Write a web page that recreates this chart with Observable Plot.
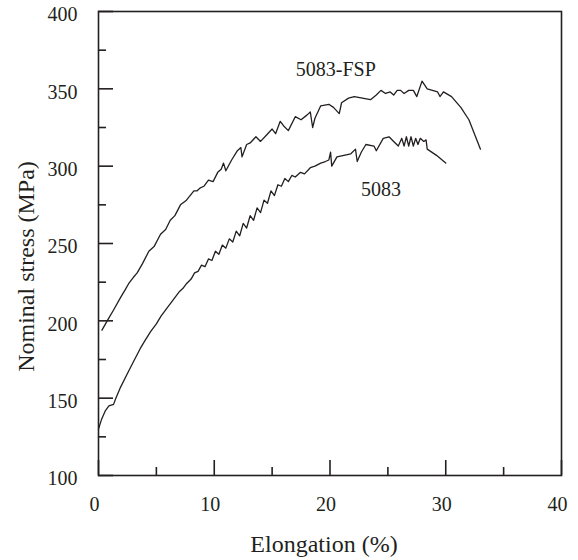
<!DOCTYPE html>
<html><head><meta charset="utf-8">
<script src="https://cdn.jsdelivr.net/npm/d3@7"></script>
<script src="https://cdn.jsdelivr.net/npm/@observablehq/plot@0.6"></script>
<style>
body{margin:0;background:#fff}
#chart svg text { font-family: "Liberation Serif", "Times New Roman", Tinos, serif !important; }
</style>
</head><body><div id="chart"></div>
<script>
// 5083-FSP curve (elongation %, nominal stress MPa)
const fspElong = [0.3,0.75,1.3,1.9,2.3,2.6,3.0,3.34,3.8,4.35,4.8,5.36,5.8,6.2,6.6,7.08,7.6,8.24,8.5,8.8,9.1,9.5,9.9,10.3,10.6,10.8,11.0,11.5,12.0,12.3,12.4,12.8,13.1,13.6,14.0,14.5,15.0,15.3,15.7,16.0,16.4,17.0,17.5,18.0,18.3,18.5,18.7,19.2,19.9,20.3,20.8,21.0,21.6,22.1,23.5,24.0,24.4,24.8,25.2,25.5,25.8,26.1,26.4,26.8,27.2,27.5,27.95,28.4,29.3,29.5,29.8,30.5,31.3,32.0,33.0];
const fspStress = [194,200,207,215,220,224,228,231,237,245,248,256,259,265,268,275,278,284,284,286,287,291,290,296,298,302,297,304,310,312,306,314,315,319,316,320,324,321,329,326,323,332,330,333,335,325,331,339,340,338,334,341,344,345,343,346,349,347,348,346,349,349,347,349,349,345,355,350,348,345,348,345,338,330,311];
// 5083 base material curve
const baseElong = [0.0,0.25,0.6,0.9,1.3,1.5,1.9,2.5,3.05,3.6,4.0,4.5,5.0,5.4,5.9,6.5,7.0,7.3,7.6,8.0,8.3,8.6,8.9,9.2,9.5,9.8,10.1,10.4,10.7,11.0,11.3,11.6,11.9,12.2,12.5,12.8,13.1,13.4,13.7,14.0,14.3,14.6,14.9,15.2,15.5,15.8,16.1,16.4,16.7,17.0,17.45,17.8,18.3,18.7,19.2,19.6,19.9,20.05,20.15,20.6,21.2,21.8,22.2,22.35,22.7,23.1,23.8,24.0,24.6,25.1,25.5,25.9,26.2,26.4,26.6,26.8,27.0,27.2,27.4,27.6,27.8,28.1,28.3,28.4,29.2,30.0];
const baseStress = [130,136,142,145,146,150,157,166,174,182,187,193,198,203,208,214,219,221,224,227,231,232,236,235,240,239,245,243,249,247,253,251,258,255,263,260,268,265,273,270,278,276,284,281,288,287,292,290,294,293,296,295,299,300,302,303,304,309,300,306,307,308,311,303,309,314,313,310,318,319,316,313,318,313,319,313,319,313,318,314,318,316,317,311,307,302];

const seriesNames = ["5083-FSP", "5083"];
const labelElong = [20.5, 24.4];
const labelStress = [358.6, 281];

const xMajor = [0, 10, 20, 30, 40];
const xMinor = [5, 15, 25, 35];
const yMajor = [100, 150, 200, 250, 300, 350, 400];
const yMinor = [125, 175, 225, 275, 325, 375];

const ink = "#231f20";
const serif = "'Liberation Serif', 'Times New Roman', Tinos, serif";
const W = 578, H = 560, mL = 98, mR = 17, mT = 11, mB = 85;
const pw = W - mL - mR, ph = H - mT - mB;

const toRows = (xs, ys) => xs.map((x, i) => ({x, y: ys[i]}));
const labels = seriesNames.map((name, i) => ({name, x: labelElong[i], y: labelStress[i]}));

const chart = Plot.plot({
  width: W, height: H,
  marginLeft: mL, marginRight: mR, marginTop: mT, marginBottom: mB,
  style: `font-family: ${serif}; font-size: 20px; color: ${ink}; background: #fff;`,
  x: {domain: [0, 40]},
  y: {domain: [100, 400]},
  marks: [
    Plot.frame({stroke: ink, strokeWidth: 1.6}),
    Plot.tickX(xMajor, {x: d => d, insetTop: ph - 15, stroke: ink, strokeWidth: 1.6}),
    Plot.tickX(xMinor, {x: d => d, insetTop: ph - 8, stroke: ink, strokeWidth: 1.6}),
    Plot.tickY(yMajor, {y: d => d, insetRight: pw - 15, stroke: ink, strokeWidth: 1.6}),
    Plot.tickY(yMinor, {y: d => d, insetRight: pw - 8, stroke: ink, strokeWidth: 1.6}),
    Plot.axisX(xMajor, {tickSize: 0, tickPadding: 21, dx: -4, label: null, fontSize: 20, fontFamily: serif, fontVariant: "normal", fill: ink}),
    Plot.axisY(yMajor, {tickSize: 0, tickPadding: 21, dy: 3.5, label: null, fontSize: 20, fontFamily: serif, fontVariant: "normal", fill: ink}),
    Plot.line(toRows(fspElong, fspStress), {x: "x", y: "y", stroke: ink, strokeWidth: 1.3}),
    Plot.line(toRows(baseElong, baseStress), {x: "x", y: "y", stroke: ink, strokeWidth: 1.3}),
    Plot.text(labels, {x: "x", y: "y", text: "name", lineAnchor: "bottom", fontSize: 20, fontFamily: serif, fill: ink}),
    Plot.text(["Elongation (%)"], {frameAnchor: "bottom", textAnchor: "middle", dy: 76, dx: -6, lineAnchor: "bottom", fontSize: 24, fontFamily: serif, fill: ink}),
    Plot.text(["Nominal stress (MPa)"], {frameAnchor: "left", textAnchor: "middle", rotate: -90, dx: -64.5, dy: 23, lineAnchor: "bottom", fontSize: 24, fontFamily: serif, fill: ink})
  ]
});
chart.setAttribute("font-family", serif);
chart.querySelectorAll("text").forEach(el => el.style.setProperty("font-family", serif, "important"));
document.getElementById("chart").append(chart);
</script>
</body></html>
